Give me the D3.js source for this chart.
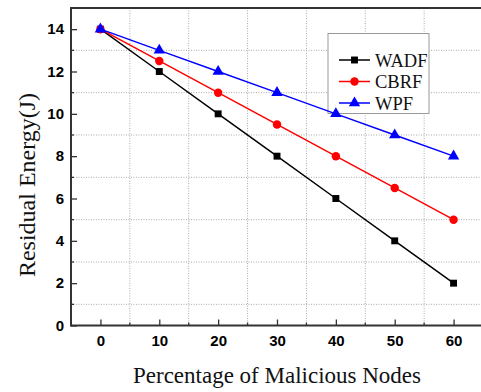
<!DOCTYPE html>
<html>
<head>
<meta charset="utf-8">
<script src="https://cdn.jsdelivr.net/npm/d3@7"></script>
<style>
  body { margin: 0; background: #fff; }
  svg { display: block; }
</style>
</head>
<body>
<div id="chart"></div>
<script>
// data
var nodes = [0, 10, 20, 30, 40, 50, 60];
var wadf = [14, 12, 10, 8, 6, 4, 2];
var cbrf = [14, 12.5, 11, 9.5, 8, 6.5, 5];
var wpf = [14, 13, 12, 11, 10, 9, 8];
var seriesNames = ["WADF", "CBRF", "WPF"];
var xTicks = [0, 10, 20, 30, 40, 50, 60];
var yTicks = [0, 2, 4, 6, 8, 10, 12, 14];
var xMinor = [5, 15, 25, 35, 45, 55];
var yMinor = [1, 3, 5, 7, 9, 11, 13];

var W = 481, H = 392;
// note: "top" is taken by window.top, so plot_* names
var plot_left = 71, plot_right = 483, plot_top = 8, plot_bottom = 325.5;

var svg = d3.select("#chart").append("svg")
  .attr("width", W).attr("height", H);

var x = d3.scaleLinear().domain([-5, 65]).range([plot_left, plot_right]);
var y = d3.scaleLinear().domain([0, 15]).range([plot_bottom, plot_top]);

// dotted grid
svg.append("g").selectAll("line").data(xMinor).enter().append("line")
  .attr("x1", d => x(d)).attr("x2", d => x(d))
  .attr("y1", plot_top).attr("y2", plot_bottom)
  .attr("stroke", "#aaa").attr("stroke-width", 1)
  .attr("stroke-dasharray", "1,1.5");
svg.append("g").selectAll("line").data(yMinor).enter().append("line")
  .attr("x1", plot_left).attr("x2", plot_right)
  .attr("y1", d => y(d)).attr("y2", d => y(d))
  .attr("stroke", "#aaa").attr("stroke-width", 1)
  .attr("stroke-dasharray", "1,1.5");

// axes
var xAxis = d3.axisBottom(x).tickValues(xTicks).tickSize(-6).tickPadding(10).tickFormat(d3.format("d"));
var gx = svg.append("g").attr("transform", `translate(0,${plot_bottom})`).call(xAxis);
var yAxis = d3.axisLeft(y).tickValues(yTicks).tickSize(-6).tickPadding(7).tickFormat(d3.format("d"));
var gy = svg.append("g").attr("transform", `translate(${plot_left},0)`).call(yAxis);

[gx, gy].forEach(function(g) {
  g.select(".domain").remove();
  g.selectAll(".tick line").attr("stroke", "#333").attr("stroke-width", 1.3);
  g.selectAll(".tick text")
    .attr("font-family", "Liberation Sans, Arial, sans-serif")
    .attr("font-weight", "bold").attr("font-size", 15).attr("fill", "#000");
});

// minor ticks
svg.append("g").selectAll("line").data(xMinor).enter().append("line")
  .attr("x1", d => x(d)).attr("x2", d => x(d))
  .attr("y1", plot_bottom).attr("y2", plot_bottom - 3)
  .attr("stroke", "#333").attr("stroke-width", 1.3);
svg.append("g").selectAll("line").data(yMinor).enter().append("line")
  .attr("x1", plot_left).attr("x2", plot_left + 3)
  .attr("y1", d => y(d)).attr("y2", d => y(d))
  .attr("stroke", "#333").attr("stroke-width", 1.3);

// frame
svg.append("line").attr("x1", plot_left).attr("x2", plot_left).attr("y1", plot_top).attr("y2", plot_bottom + 1)
  .attr("stroke", "#333").attr("stroke-width", 2);
svg.append("line").attr("x1", plot_left).attr("x2", plot_right).attr("y1", plot_bottom).attr("y2", plot_bottom)
  .attr("stroke", "#333").attr("stroke-width", 2);
svg.append("line").attr("x1", plot_left - 1).attr("x2", plot_right).attr("y1", plot_top).attr("y2", plot_top)
  .attr("stroke", "#333").attr("stroke-width", 2);

// series
var series = [
  {name: seriesNames[0], values: wadf, color: "#000000", shape: d3.symbolSquare, size: 48},
  {name: seriesNames[1], values: cbrf, color: "#ff0000", shape: d3.symbolCircle, size: 56},
  {name: seriesNames[2], values: wpf, color: "#0000ff", shape: d3.symbolTriangle, size: 56}
];

// legend (box goes under the lines, as in the original)
var lg = svg.append("g");
lg.append("rect")
  .attr("x", 328).attr("y", 33.5).attr("width", 101).attr("height", 80)
  .attr("fill", "#fff").attr("stroke", "#999").attr("stroke-width", 1);
series.forEach(function(s, i) {
  var ly = 60 + i * 21.5;
  lg.append("line").attr("x1", 339).attr("x2", 370).attr("y1", ly).attr("y2", ly)
    .attr("stroke", s.color).attr("stroke-width", 1.5);
  lg.append("path")
    .attr("d", d3.symbol().type(s.shape).size(s.size))
    .attr("transform", `translate(354.5,${ly})`)
    .attr("fill", s.color);
  lg.append("text")
    .attr("x", 375).attr("y", ly + 6.5)
    .attr("font-family", "Liberation Serif, Times New Roman, serif")
    .attr("font-size", 18.5).attr("fill", "#111")
    .text(s.name);
});

var line = d3.line()
  .x(function(d, i) { return x(nodes[i]); })
  .y(function(d) { return y(d); });

series.forEach(function(s) {
  svg.append("path")
    .datum(s.values)
    .attr("d", line)
    .attr("fill", "none")
    .attr("stroke", s.color)
    .attr("stroke-width", 1.5);
  svg.append("g").selectAll("path").data(s.values).enter().append("path")
    .attr("d", d3.symbol().type(s.shape).size(s.size))
    .attr("transform", function(d, i) { return `translate(${x(nodes[i])},${y(d)})`; })
    .attr("fill", s.color);
});

// axis titles
svg.append("text")
  .attr("x", (plot_left + plot_right) / 2).attr("y", 383)
  .attr("text-anchor", "middle")
  .attr("font-family", "Liberation Serif, Times New Roman, serif")
  .attr("font-size", 23).attr("fill", "#111")
  .text("Percentage of Malicious Nodes");
svg.append("text")
  .attr("transform", "translate(35,185) rotate(-90)")
  .attr("text-anchor", "middle")
  .attr("font-family", "Liberation Serif, Times New Roman, serif")
  .attr("font-size", 24).attr("fill", "#111")
  .text("Residual Energy(J)");
</script>
</body>
</html>
